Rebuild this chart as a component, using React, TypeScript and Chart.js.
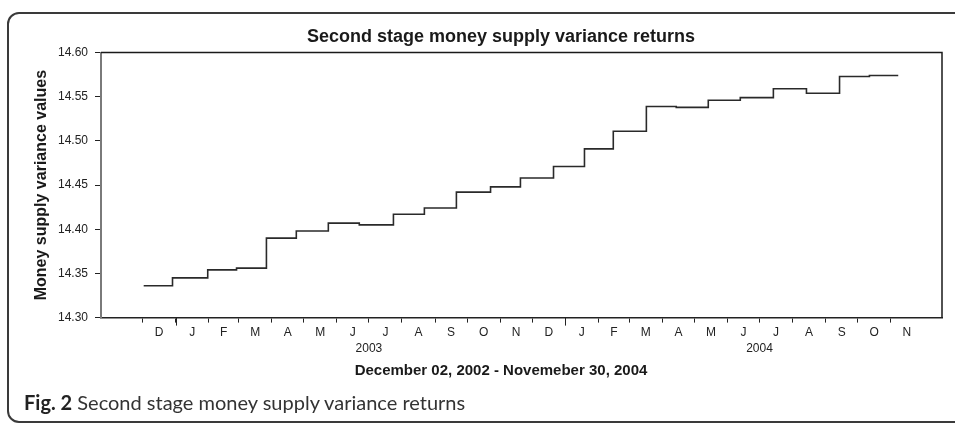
import React, { useEffect, useRef } from 'react';
import { Chart, registerables } from 'chart.js';

Chart.register(...registerables);

// ---- text ----
const chartTitle = 'Second stage money supply variance returns';
const yAxisTitle = 'Money supply variance values';
const xAxisTitle = 'December 02, 2002 - Novemeber 30, 2004';
const captionLabel = 'Fig. 2';
const captionText = 'Second stage money supply variance returns';

// ---- series: date each level starts, and its value ----
const stepDates = [
  '2002-12-02', '2002-12-29', '2003-01-31', '2003-02-27', '2003-03-27', '2003-04-24',
  '2003-05-24', '2003-06-22', '2003-07-24', '2003-08-22', '2003-09-21', '2003-10-23',
  '2003-11-20', '2003-12-21', '2004-01-19', '2004-02-15', '2004-03-17', '2004-04-14',
  '2004-05-14', '2004-06-13', '2004-07-14', '2004-08-14', '2004-09-14', '2004-10-12',
];
const stepValues = [
  14.336, 14.345, 14.354, 14.356, 14.390, 14.398,
  14.407, 14.405, 14.417, 14.424, 14.442, 14.448,
  14.458, 14.471, 14.491, 14.511, 14.539, 14.538,
  14.546, 14.549, 14.559, 14.554, 14.573, 14.574,
];
const seriesEndDate = '2004-11-08';

// ---- axes ----
const axisStartDate = '2002-10-23';
const axisEndDate = '2004-12-19';
const monthLetters = [
  'D', 'J', 'F', 'M', 'A', 'M', 'J', 'J', 'A', 'S', 'O', 'N',
  'D', 'J', 'F', 'M', 'A', 'M', 'J', 'J', 'A', 'S', 'O', 'N',
];
const firstMonthYear = 2002;
const firstMonthIndex = 11; // December
const yearLabels = ['2003', '2004'];
const yearLabelDates = ['2003-07-01', '2004-07-01'];
const yearStartDates = ['2003-01-01', '2004-01-01'];
const yTicks = [14.3, 14.35, 14.4, 14.45, 14.5, 14.55, 14.6];

// ---- helpers ----
const ORIGIN = Date.UTC(2002, 11, 1);
const dayNumber = (s: string) => {
  const [y, m, d] = s.split('-').map(Number);
  return (Date.UTC(y, m - 1, d) - ORIGIN) / 86400000;
};
const utcDay = (y: number, m: number) => (Date.UTC(y, m, 1) - ORIGIN) / 86400000;

type XTick = { value: number; label: string | string[]; boundary: boolean };
const xTickList: XTick[] = [];
monthLetters.forEach((letter, i) => {
  const start = utcDay(firstMonthYear, firstMonthIndex + i);
  const next = utcDay(firstMonthYear, firstMonthIndex + i + 1);
  const yi = yearLabelDates.findIndex((d) => dayNumber(d) === start);
  xTickList.push({ value: start, label: yi >= 0 ? ['', yearLabels[yi]] : '', boundary: true });
  xTickList.push({ value: (start + next) / 2, label: letter, boundary: false });
});

const seriesPoints = stepDates
  .map((d, i) => ({ x: dayNumber(d), y: stepValues[i] }))
  .concat([{ x: dayNumber(seriesEndDate), y: stepValues[stepValues.length - 1] }]);

const FONT = 'Liberation Sans, Arial, sans-serif';

const framePlugin = {
  id: 'frameAndYearTicks',
  afterDraw(chart: any) {
    const { ctx, chartArea } = chart;
    const { left, right, top, bottom } = chartArea;
    ctx.save();
    ctx.strokeStyle = '#1a1a1a';
    ctx.lineWidth = 1.5;
    ctx.beginPath();
    ctx.moveTo(left, top);
    ctx.lineTo(right, top);
    ctx.lineTo(right, bottom);
    ctx.stroke();
    const xs = chart.scales.x;
    ctx.lineWidth = 1;
    ctx.strokeStyle = '#222';
    ctx.beginPath();
    yearStartDates.forEach((d) => {
      const px = Math.round(xs.getPixelForValue(dayNumber(d))) + 0.5;
      ctx.moveTo(px, bottom);
      ctx.lineTo(px, bottom + 8);
    });
    ctx.stroke();
    ctx.restore();
  },
};

export default function App() {
  const canvasRef = useRef<HTMLCanvasElement | null>(null);

  useEffect(() => {
    if (!canvasRef.current) return;
    const chart = new Chart(canvasRef.current, {
      type: 'line',
      data: {
        datasets: [
          {
            data: seriesPoints,
            borderColor: '#2a2a2a',
            borderWidth: 1.6,
            pointRadius: 0,
            stepped: 'before',
            fill: false,
            yAxisID: 'y',
          },
        ],
      },
      options: {
        animation: false,
        responsive: false,
        devicePixelRatio: 1,
        layout: { padding: { left: 0, right: 0, top: 0, bottom: 0 } },
        plugins: {
          legend: { display: false },
          tooltip: { enabled: false },
          title: {
            display: true,
            text: chartTitle,
            color: '#1a1a1a',
            font: { family: FONT, size: 18, weight: 'bold' },
            padding: { top: 12, bottom: 5 },
          },
          subtitle: {
            display: true,
            position: 'bottom',
            text: xAxisTitle,
            color: '#1a1a1a',
            font: { family: FONT, size: 15, weight: 'bold' },
            padding: { top: 3, bottom: 14 },
          },
        },
        scales: {
          x: {
            type: 'linear',
            min: dayNumber(axisStartDate),
            max: dayNumber(axisEndDate),
            afterBuildTicks: (scale: any) => {
              scale.ticks = xTickList.map((t) => ({ value: t.value }));
            },
            ticks: {
              autoSkip: false,
              maxRotation: 0,
              minRotation: 0,
              padding: 2,
              color: '#222',
              font: { family: FONT, size: 12, lineHeight: 1.35 },
              callback: (_v: any, index: number) => xTickList[index]?.label ?? '',
            },
            grid: {
              drawOnChartArea: false,
              tickLength: 5,
              tickColor: (ctx: any) => (xTickList[ctx.index]?.boundary ? '#222' : 'rgba(0,0,0,0)'),
              tickWidth: 1,
            },
            border: { display: true, color: '#222', width: 1.5 },
          },
          y: {
            type: 'linear',
            position: 'left',
            min: 14.3,
            max: 14.6,
            afterBuildTicks: (scale: any) => {
              scale.ticks = yTicks.map((v) => ({ value: v }));
            },
            afterFit: (scale: any) => {
              scale.width = 71;
            },
            ticks: {
              padding: 7,
              color: '#222',
              font: { family: FONT, size: 12 },
              callback: (v: any) => Number(v).toFixed(2),
            },
            grid: {
              drawOnChartArea: false,
              tickLength: 6,
              tickColor: '#222',
              tickWidth: 1,
            },
            border: { display: true, color: '#7a7a7a', width: 2 },
            title: {
              display: true,
              text: yAxisTitle,
              color: '#1a1a1a',
              font: { family: FONT, size: 16, weight: 'bold', lineHeight: 1.2 },
              padding: { top: 2, bottom: 0 },
            },
          },
          yRight: {
            type: 'linear',
            position: 'right',
            display: true,
            min: 14.3,
            max: 14.6,
            ticks: { display: false },
            grid: { display: false, drawTicks: false },
            border: { display: false },
            afterFit: (scale: any) => {
              scale.width = 30;
            },
          },
        },
      },
      plugins: [framePlugin],
    } as any);
    return () => chart.destroy();
  }, []);

  return (
    <div
      style={{
        position: 'fixed',
        left: 0,
        top: 0,
        width: 955,
        height: 423,
        overflow: 'hidden',
        background: '#fff',
      }}
    >
      <div
        style={{
          position: 'absolute',
          left: 7,
          top: 12,
          width: 1010,
          height: 411,
          boxSizing: 'border-box',
          border: '2px solid #3a3a3a',
          borderRadius: 12,
        }}
      />
      <canvas
        ref={canvasRef}
        width={942}
        height={380}
        style={{ position: 'absolute', left: 30, top: 14, width: 942, height: 380 }}
      />
      <div
        style={{
          position: 'absolute',
          left: 24,
          top: 392,
          fontFamily: 'Lato, "Open Sans", sans-serif',
          fontSize: 20,
          lineHeight: '20px',
          color: '#333',
          whiteSpace: 'nowrap',
        }}
      >
        <b style={{ color: '#222' }}>{captionLabel}</b> {captionText}
      </div>
    </div>
  );
}
